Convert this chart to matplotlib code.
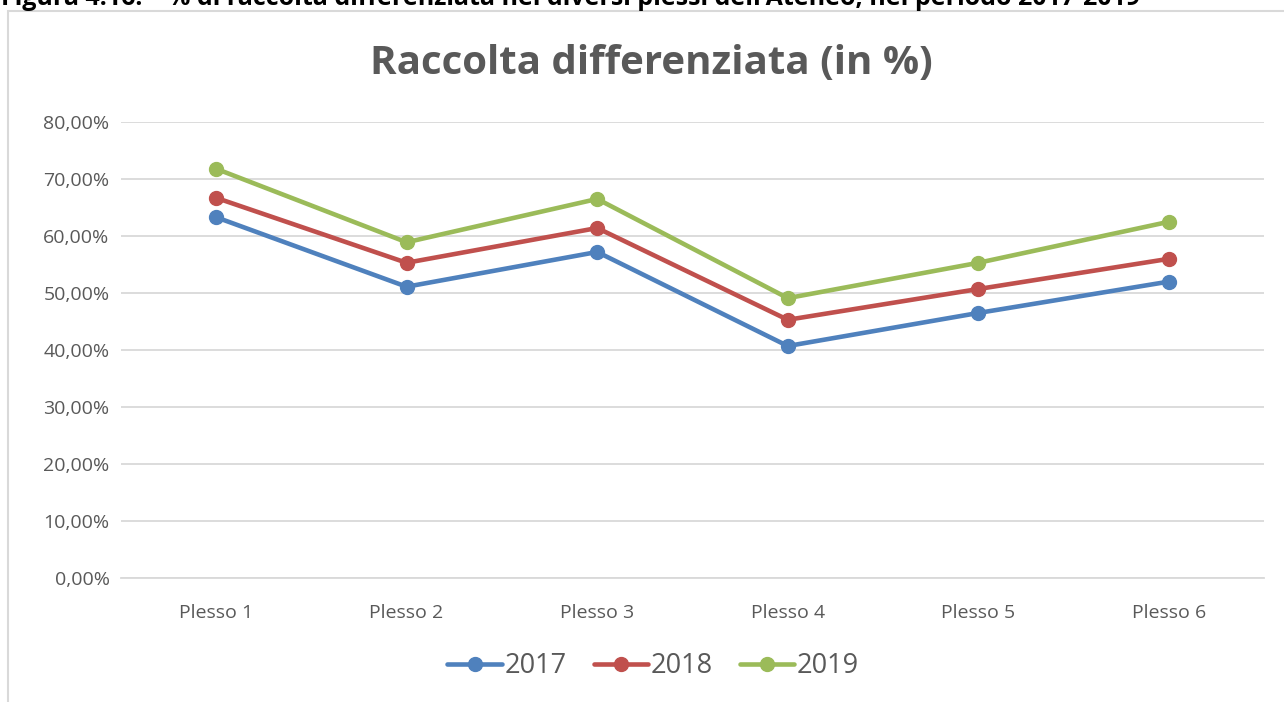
import matplotlib
matplotlib.use("Agg")
import matplotlib.pyplot as plt
from matplotlib.patches import Rectangle
from matplotlib.ticker import FuncFormatter

categories = ["Plesso 1", "Plesso 2", "Plesso 3", "Plesso 4", "Plesso 5", "Plesso 6"]
series_names = ["2017", "2018", "2019"]
values_2017 = [63.3, 51.1, 57.2, 40.7, 46.5, 52.0]
values_2018 = [66.7, 55.3, 61.4, 45.3, 50.7, 56.0]
values_2019 = [71.8, 58.9, 66.5, 49.1, 55.3, 62.5]
colors = ["#4F81BD", "#C0504D", "#9BBB59"]
yticks = [0, 10, 20, 30, 40, 50, 60, 70, 80]

plt.rcParams['font.family'] = ['Open Sans', 'DejaVu Sans']

fig = plt.figure(figsize=(12.84, 7.02), dpi=100)
W, H = 1284, 702

# chart frame
fig.patches.append(Rectangle((8 / W, -0.01), 1.02, 1 - 11 / H + 0.01, transform=fig.transFigure,
                             fill=False, edgecolor="#D9D9D9", linewidth=1.5))

# caption (partly cut off at the top edge, as in the source)
fig.text(1 / W, 1 - 5 / H, "Figura 4.16: – % di raccolta differenziata nei diversi plessi dell'Ateneo, nel periodo 2017-2019",
         fontsize=18, fontweight='bold', color='black', ha='left', va='baseline')

ax = fig.add_axes([120.7 / W, 1 - 578 / H, (1264.3 - 120.7) / W, (578 - 122) / H])
x = list(range(len(categories)))
for name, vals, c in zip(series_names, [values_2017, values_2018, values_2019], colors):
    ax.plot(x, vals, color=c, linewidth=3.3, marker='o', markersize=10, label=name,
            solid_capstyle='round', zorder=3)

ax.set_xlim(-0.5, len(categories) - 0.5)
ax.set_ylim(0, 80)
ax.set_yticks(yticks)
ax.yaxis.set_major_formatter(FuncFormatter(lambda v, p: f"{v:.2f}%".replace('.', ',')))
ax.set_xticks(x)
ax.set_xticklabels(categories)
ax.grid(axis='y', color='#D9D9D9', linewidth=1.3)
ax.set_axisbelow(True)
for s in ['top', 'right', 'left']:
    ax.spines[s].set_visible(False)
ax.spines['bottom'].set_color('#D9D9D9')
ax.spines['bottom'].set_linewidth(1.3)
ax.tick_params(axis='both', length=0, colors='#595959', labelsize=14)
ax.tick_params(axis='x', pad=19)
ax.tick_params(axis='y', pad=8)

fig.text(651 / W, 1 - 63 / H, "Raccolta differenziata (in %)", fontsize=29, fontweight='bold',
         color='#595959', ha='center', va='center')

leg = fig.legend(loc='center', bbox_to_anchor=(653 / W, 1 - 666 / H), ncol=3, frameon=False,
                 fontsize=19.5, handlelength=2.0, handletextpad=0.1, columnspacing=1.0)
for t in leg.get_texts():
    t.set_color('#595959')

fig.savefig("out.png", dpi=100)
